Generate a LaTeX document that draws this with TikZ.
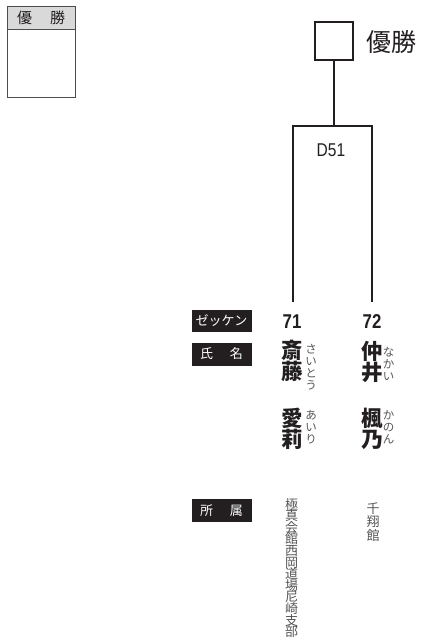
\documentclass[tikz,border=0pt]{standalone}
\usepackage{fontspec}
\newfontfamily\cjk{Noto Sans CJK JP}
\newfontfamily\cond[FakeStretch=0.84]{Liberation Sans}
\definecolor{ink}{HTML}{231F20}
\definecolor{hdr}{HTML}{D9D9D9}
\definecolor{kana}{HTML}{555555}
\newcommand\tightlines{\lineskiplimit=-30pt\lineskip=0pt}
\tikzset{
  line/.style={draw=ink, line width=1.2pt},
  lab/.style={fill=ink, text=white, inner sep=0pt, minimum width=60pt, minimum height=22pt, font=\cjk\fontsize{13}{13}\selectfont},
  num/.style={inner sep=0pt, text=ink, font=\cond\bfseries\fontsize{20}{20}\selectfont},
  nm/.style={inner sep=0pt, align=center, text=ink, font=\cjk\bfseries\fontsize{21.5}{21.5}\selectfont\tightlines},
  furi/.style={inner sep=0pt, align=center, text=kana, font=\cjk\fontsize{11.5}{12}\selectfont\tightlines},
  aff/.style={inner sep=0pt, align=center, text=kana, font=\cjk\fontsize{13}{#1}\selectfont\tightlines},
}
\begin{document}
\begin{tikzpicture}[x=1pt,y=-1pt]
\useasboundingbox (0,0) rectangle (423,640);
% top-left result box
\filldraw[fill=hdr, draw=ink!80, line width=1pt] (7,6) rectangle (75,29);
\draw[draw=ink!80, line width=1pt] (7,29) rectangle (75,97);
\node[inner sep=0pt, text=ink, font=\cjk\fontsize{15}{15}\selectfont] (hdrtxt) at (41,18) {優\hspace{18pt}勝};
% winner square
\node[draw=ink, line width=1.2pt, minimum size=38pt, inner sep=0pt] (win) at (334,41) {};
\node[inner sep=0pt, text=ink, font=\cjk\fontsize{25}{25}\selectfont, anchor=west] (wintxt) at (366,42) {優勝};
% bracket
\coordinate (j) at (334,126);
\coordinate (jl) at (293,126);
\coordinate (jr) at (372,126);
\node[inner sep=0pt, text=ink, font=\cond\fontsize{18.5}{18.5}\selectfont] (d51) at (331,150) {D51};
\node[num] (n71) at (292,322) {71};
\node[num] (n72) at (372,322) {72};
\coordinate (bl) at (293,302);
\coordinate (br) at (372,302);
\draw[line] (win.south) -- (j);
\draw[line] (bl) -- (jl) -- (jr) -- (br);
% labels
\node[lab] (zk) at (221.5,321) {ゼッケン};
\node[lab, minimum height=23pt] (sm) at (221.5,354) {氏\hspace{17pt}名};
\node[lab, minimum height=23pt] (sz) at (221.5,510.5) {所\hspace{17pt}属};
% names
\node[nm] (s1) at (292,361) {斎\\藤};
\node[nm] (s2) at (292,429) {愛\\莉};
\node[nm] (k1) at (372,362) {仲\\井};
\node[nm] (k2) at (372,429) {楓\\乃};
\node[furi] (f1) at (311,367.5) {さ\\い\\と\\う};
\node[furi] (f2) at (311,427.5) {あ\\い\\り};
\node[furi] (f3) at (388.5,364) {な\\か\\い};
\node[furi] (f4) at (388.5,427.5) {か\\の\\ん};
% affiliations
\node[aff=11.6] (a1) at (291.5,568) {極\\真\\会\\館\\西\\岡\\道\\場\\尼\\崎\\支\\部};
\node[aff=13.3] (a2) at (373,522) {千\\翔\\館};
\end{tikzpicture}
\end{document}
